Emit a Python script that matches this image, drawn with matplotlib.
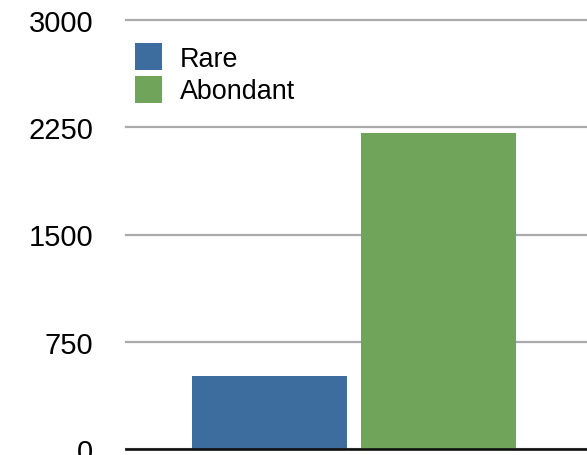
import matplotlib
matplotlib.use("Agg")
import matplotlib.pyplot as plt

plt.rcParams['font.family'] = ['Liberation Sans', 'DejaVu Sans']

series_names = ["Rare", "Abondant"]
series_values = [510, 2210]
series_colors = ["#3d6d9e", "#6fa45a"]
y_ticks = [0, 750, 1500, 2250, 3000]

W, H = 587, 456
fig = plt.figure(figsize=(W / 100, H / 100), dpi=100)
ax = fig.add_axes([126 / W, (H - 450) / H, 1 - 126 / W, (450 - 21) / H])

positions = [0, 1]
for pos, name, val, col in zip(positions, series_names, series_values, series_colors):
    ax.bar(pos, val, width=0.917, color=col, label=name, zorder=3)

ax.set_xlim(-0.849, 1.879)
ax.set_ylim(0, 3000)
ax.set_yticks(y_ticks)
ax.set_yticklabels([str(t) for t in y_ticks], fontsize=21)
ax.tick_params(axis='y', length=0, pad=23.5)
ax.set_xticks([])
for s in ['left', 'right', 'top']:
    ax.spines[s].set_visible(False)
ax.spines['bottom'].set_color('#111111')
ax.spines['bottom'].set_linewidth(1.9)
ax.spines['bottom'].set_zorder(4)
ax.grid(axis='y', color='#aaaaaa', linewidth=1.6, zorder=1)
for gl in ax.get_ygridlines():
    gl.set_clip_on(False)

leg = ax.legend(loc='upper left', bbox_to_anchor=(135 / W, 1 - 44 / H),
                bbox_transform=fig.transFigure, frameon=False, fontsize=19.4,
                handlelength=1.0, handleheight=1.17, handletextpad=0.67,
                labelspacing=0.15, borderpad=0, borderaxespad=0)

fig.savefig("out.png", dpi=100)
